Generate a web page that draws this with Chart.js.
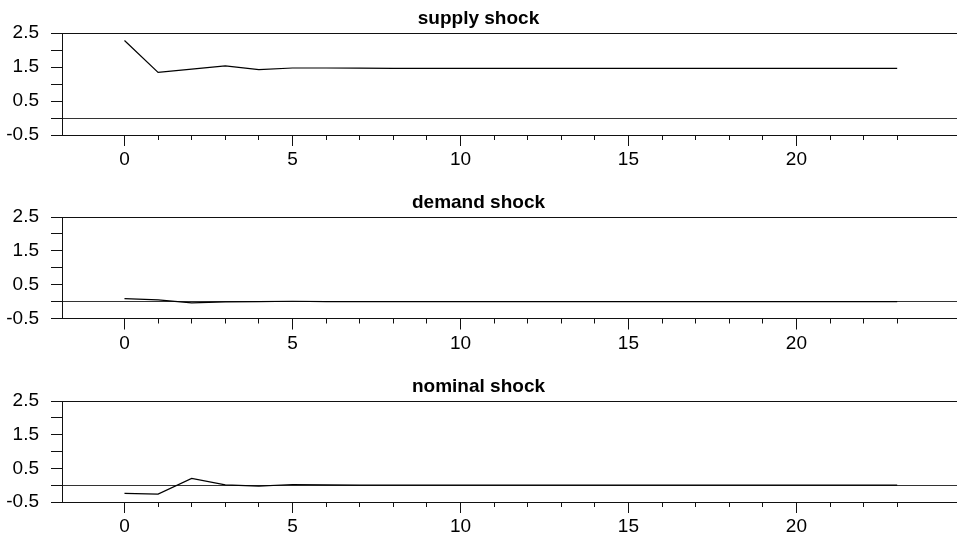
<!DOCTYPE html>
<html>
<head>
<meta charset="utf-8">
<script src="https://cdn.jsdelivr.net/npm/chart.js@4.4.0/dist/chart.umd.min.js"></script>
<style>
  html, body { margin: 0; padding: 0; background: #fff; }
  body { width: 957px; height: 534px; position: relative; overflow: hidden; }
  canvas { position: absolute; left: 0; }
</style>
</head>
<body>
<canvas id="supply" width="957" height="184" style="top:0px"></canvas>
<canvas id="demand" width="957" height="184" style="top:184px"></canvas>
<canvas id="nominal" width="957" height="166" style="top:368px"></canvas>
<script>
var periods = [0, 1, 2, 3, 4, 5, 6, 7, 8, 9, 10, 11, 12, 13, 14, 15, 16, 17, 18, 19, 20, 21, 22, 23];
var supplyShock = [2.28, 1.34, 1.44, 1.535, 1.42, 1.47, 1.47, 1.465, 1.46, 1.46, 1.46, 1.46,
                   1.46, 1.46, 1.46, 1.46, 1.46, 1.46, 1.46, 1.46, 1.46, 1.46, 1.46, 1.46];
var demandShock = [0.09, 0.05, -0.04, -0.01, 0.0, 0.01, 0.0, 0.0, 0.0, 0.0, 0.0, 0.0,
                   0.0, 0.0, 0.0, 0.0, 0.0, 0.0, 0.0, 0.0, 0.0, 0.0, 0.0, 0.0];
var nominalShock = [-0.245, -0.265, 0.2, 0.01, -0.03, 0.02, 0.01, 0.0, 0.0, 0.0, 0.0, 0.0,
                    0.0, 0.0, 0.0, 0.0, 0.0, 0.0, 0.0, 0.0, 0.0, 0.0, 0.0, 0.0];
var yTickLabels = [-0.5, 0.5, 1.5, 2.5];
var xTickLabels = [0, 5, 10, 15, 20];

var FONT = "'Liberation Sans', Arial, Helvetica, sans-serif";

// longer tick marks under the labelled periods
var majorTicks = {
  id: 'majorTicks',
  afterDraw: function (chart) {
    var x = chart.scales.x, c = chart.ctx;
    c.save();
    c.strokeStyle = '#111';
    c.lineWidth = 1;
    xTickLabels.forEach(function (v) {
      var px = Math.round(x.getPixelForValue(v)) + 0.5;
      c.beginPath();
      c.moveTo(px, x.top);
      c.lineTo(px, x.top + 11);
      c.stroke();
    });
    c.restore();
  }
};

function panel(id, title, values, plotHeight) {
  var canvas = document.getElementById(id);
  var xHeight = canvas.height - 33 - plotHeight;
  return new Chart(canvas.getContext('2d'), {
    type: 'line',
    data: {
      datasets: [{
        data: periods.map(function (p, i) { return { x: p, y: values[i] }; }),
        borderColor: '#000',
        borderWidth: 1.2,
        pointRadius: 0,
        tension: 0,
        fill: false
      }]
    },
    options: {
      responsive: false,
      animation: false,
      devicePixelRatio: 1,
      layout: { padding: 0 },
      plugins: {
        legend: { display: false },
        tooltip: { enabled: false },
        title: {
          display: true,
          text: title,
          color: '#000',
          font: { family: FONT, size: 19, weight: 'bold', lineHeight: 1.2 },
          padding: { top: 7, bottom: 3.2 }
        }
      },
      scales: {
        x: {
          type: 'linear',
          min: -1.86,
          max: 24.78,
          afterFit: function (s) { s.height = xHeight; },
          afterBuildTicks: function (s) {
            s.ticks = s.ticks.filter(function (t) { return t.value >= 0 && t.value <= 23; });
          },
          ticks: {
            stepSize: 1,
            includeBounds: false,
            autoSkip: false,
            maxRotation: 0,
            padding: 8.5,
            color: '#000',
            font: { family: FONT, size: 19 },
            callback: function (v) { return xTickLabels.indexOf(v) >= 0 ? String(v) : ''; }
          },
          grid: { drawOnChartArea: false, tickLength: 5, tickColor: '#111' },
          border: { display: true, color: '#111', width: 1 }
        },
        y: {
          min: -0.5,
          max: 2.5,
          afterFit: function (s) { s.width = 62; },
          ticks: {
            stepSize: 0.5,
            autoSkip: false,
            padding: 12,
            color: '#000',
            font: { family: FONT, size: 19 },
            callback: function (v) {
              var r = Math.round(v * 10) / 10;
              return yTickLabels.indexOf(r) >= 0 ? r.toFixed(1) : '';
            }
          },
          grid: {
            drawOnChartArea: true,
            tickLength: 11,
            tickColor: '#111',
            color: function (c) {
              if (!c.tick) return 'rgba(0,0,0,0)';
              var v = c.tick.value;
              if (Math.abs(v) < 1e-9) return '#333';
              if (Math.abs(v - 2.5) < 1e-9) return '#111';
              return 'rgba(0,0,0,0)';
            }
          },
          border: { display: true, color: '#111', width: 1 }
        }
      }
    },
    plugins: [majorTicks]
  });
}

panel('supply', 'supply shock', supplyShock, 102);
panel('demand', 'demand shock', demandShock, 101.5);
panel('nominal', 'nominal shock', nominalShock, 101);
</script>
</body>
</html>
